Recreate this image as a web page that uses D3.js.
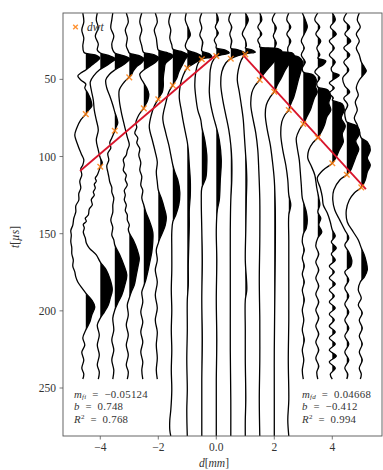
<!DOCTYPE html>
<html><head><meta charset="utf-8">
<script src="https://cdn.jsdelivr.net/npm/d3@7"></script>
<style>body{margin:0;background:#fff}svg{display:block}text{font-family:"Liberation Serif","DejaVu Serif",serif}</style>
</head><body><svg id="c" width="383" height="470"></svg>
<script>
// receiver positions d [mm]
const offsets = [-4.5,-4.0,-3.5,-3.0,-2.5,-2.0,-1.5,-1.0,-0.5,0.0,0.5,1.0,1.5,2.0,2.5,3.0,3.5,4.0,4.5,5.0];
// wiggle traces: [t (µs), amplitude (a.u.)]
const tr_m45 = [[7,-3],[12.8,-2],[18,-4],[23.2,-2],[28.4,-3],[32.3,-2],[33.2,0],[34.2,10],[36.2,14],[38.8,10],[41.3,5],[43.9,0],[45.9,-5],[47.8,-8],[50.4,-5],[53,0],[55.6,-1],[58.8,2],[63.4,5],[67.3,6],[70.5,2],[72.5,0],[76.3,-5],[81.5,-9],[86.1,-11],[92.5,-8],[96,-6],[99,-4],[102,-2],[105.5,-3],[108,-5],[112,-4],[116,-6],[120.4,-5],[124,-7],[128.2,-7],[132,-10],[135.9,-10],[140,-12],[144.4,-13],[148,-15],[150.9,-14.5],[155,-15],[159.3,-14],[163,-14],[167.1,-12.5],[171,-13],[174.8,-11],[178,-10],[181.3,-8],[185.9,-3],[188.5,0],[193,6],[197.5,9],[202.7,6],[207.3,4],[212.4,0],[217.6,-3],[222.2,-1],[226.7,-4],[231.9,-2],[237.1,-4],[241,-2],[244.2,-3]];
const tr_m40 = [[7,-3],[11.5,-4],[16.7,-2],[21.9,-5],[27.1,-2],[31,-3],[32.9,0],[34.9,10],[36.8,15],[39.4,10],[42,4],[43.9,-1],[47.2,-6],[51.7,-10],[56.9,-9],[63.4,-7],[69.9,-6],[76.3,-4],[82.8,-2],[89.3,-4],[95.8,-2],[101,0],[104.2,2],[106.8,0],[112,-3],[114,-5],[116,-4],[118,-6],[120.4,-5],[123,-7],[125,-6],[128,-9],[131.4,-8],[134,-11],[137.9,-12],[140,-15],[142,-14],[144,-17],[146.3,-16],[149,-17],[152.8,-15],[156,-14],[159.3,-11],[163.8,-4],[168.4,0],[173.5,6],[180,10],[186.5,12],[191.7,10],[196.2,8],[200.8,4],[204.7,0],[209.2,-3],[215.7,-1],[222.2,-3],[228.6,-1],[235.1,-3],[239.7,-1],[244.2,-2]];
const tr_m35 = [[7,-2],[11.5,-3],[16.7,-4],[21.9,-1],[27.1,-3],[31,-2],[32.9,0],[34.9,10],[36.8,15],[39.4,11],[42,5],[43.9,0],[46.5,-5],[50.4,-9],[55.6,-8],[60.8,-5],[66.6,-2],[71.2,0],[75,2],[78.3,3],[81.5,1],[83.5,0],[88,-3],[91,-5],[94.5,-4],[98,-7],[102.3,-6],[106,-8],[110,-7],[113,-6],[116.5,-5],[120,-3],[123,-3],[127,-1],[131.4,-2],[136,-2],[141.2,-4],[146,-2],[150.9,-3],[154,-1],[157.3,0],[163.8,5],[170.3,9],[176.8,12],[183.3,10],[189.8,7],[194.9,3],[199.5,0],[204.7,-2],[212.4,-1],[218.9,-3],[225.4,-1],[231.9,-3],[238.4,-1],[244.2,-2]];
const tr_m30 = [[7,-3],[12.8,-1],[18,-4],[23.2,-2],[28.4,-3],[31.6,-1],[32.9,0],[34.9,11],[36.8,15],[39.4,12],[42,7],[44.6,4],[47.2,2],[48.5,0],[51.7,-5],[56.9,-10],[63.4,-10],[71.2,-8],[79.6,-5],[87.4,-2],[92.5,0],[96,-2],[99,-3],[102,-6],[105.5,-5],[109,-6],[112,-3],[115,-4],[118.5,-2],[122,-5],[124.9,-4],[128,-5],[131.4,-3],[135,-4],[137.9,-2],[141,-2],[144.4,0],[147,-1],[149.6,0],[154.1,4],[160.6,8],[165.8,10],[170.3,9],[176.8,7],[183.3,5],[187.8,2],[191.7,0],[196.2,-2],[202.7,-1],[209.2,-3],[215.7,-1],[222.2,-3],[228.6,-1],[235.1,-3],[239.7,-1],[244.2,-2]];
const tr_m25 = [[7,-2],[12.8,-4],[18,-2],[23.2,-4],[28.4,-2],[31.6,-1],[32.6,0],[34.2,11],[36.2,15],[38.8,12],[41.3,6],[43.9,0],[46.5,-4],[49.1,-3],[52.4,0],[55.6,3],[59.5,5],[63.4,4],[67.3,1],[68.6,0],[73.1,-5],[78.3,-8],[81,-7],[84.8,-9],[88,-6],[91.2,-7],[95,-4],[99,-5],[104,-3],[108.7,-4],[113,-2],[118.5,-3],[122,-1],[126.9,-2],[131.4,0],[135.9,2],[142.4,6],[148.9,9],[155.4,9],[161.9,8],[168.4,6],[174.8,4],[180,2],[183.9,0],[187.8,-2],[194.3,-1],[200.8,-3],[207.3,-1],[213.7,-3],[220.2,-1],[226.7,-3],[233.2,-1],[238.4,-2],[244.2,-1]];
const tr_m20 = [[7,-3],[12.8,-1],[18,-4],[23.2,-2],[28.4,-1],[31,0],[32.9,10],[34.9,15],[37.5,11],[40,7],[43.9,6],[49.1,5],[54.3,5],[58.2,4],[61.4,1],[62.7,0],[67.3,-4],[73.1,-7],[80.9,-9],[89.3,-6],[97.1,-3],[103.6,-1],[110,-2],[116.5,-1],[121.7,0],[126.9,3],[133.4,6],[139.2,8],[144.4,7],[149.6,4],[154.1,1],[156.1,0],[160.6,-2],[167.1,-1],[173.5,-3],[181.3,-1],[189.8,-3],[198.2,-1],[206,-3],[213.7,-1],[222.2,-2],[230.6,-1],[238.4,-2],[244.2,-1]];
const tr_m15 = [[7,-2],[12.8,-4],[18,-2],[23.2,-3],[27.7,-1],[30.3,0],[32.3,10],[34.2,15],[37.5,12],[41.3,9],[45.2,6],[49.1,4],[52.4,1],[53.7,0],[58.2,-4],[65.3,-7],[75,-10],[84.8,-7],[92.5,-4],[99,-2],[105.5,0],[110,2],[115.2,5],[123,7],[131.4,6],[137.9,3],[142.4,0],[148.9,-1],[160.6,-1],[173.5,-1],[186.5,-1.5],[199.5,-1],[212.4,-1.5],[225.4,-1],[238.4,-1.5],[251.3,-1],[264.3,-2],[270.8,-3],[277.2,-3],[281.1,-2]];
const tr_m10 = [[7,-1],[11.5,-2],[16.7,1],[21.3,3],[24.5,0],[28.4,-2],[31,0],[32.9,8],[34.9,14],[37.5,12],[40,6],[42,1],[42.6,0],[47.2,-4],[53.7,-7],[62.1,-8],[69.9,-6],[77.6,-4],[84.1,-2],[90.6,0],[95.8,1],[105.5,2],[115.2,3],[124.9,3],[134.7,2],[144.4,2],[157.3,1.5],[170.3,1],[183.3,1],[193,0],[212.4,0],[231.9,-0.5],[251.3,0],[264.3,-0.5],[281.1,0]];
const tr_m05 = [[7,0],[11.5,-2],[16.7,0],[21.3,-2],[25.8,1],[29.7,0],[31.6,0],[33.6,8],[35.5,10],[36.8,0],[40,-4],[45.2,-6],[53.7,-7],[61.4,-6],[69.9,-4],[76.3,-1],[80.9,0],[89.3,3],[99,5],[105.5,5],[113.9,4],[120.4,0],[128.2,-0.5],[147.6,0],[167.1,0.5],[193,0],[218.9,0.5],[244.8,0],[264.3,0],[281.1,0]];
const tr_p00 = [[7,0],[11.5,2],[16.1,-1],[20,2],[24.5,-2],[27.7,0],[29.7,0],[31,9],[32.9,13],[34.2,5],[35.2,0],[38.8,-4],[43.9,-6],[50.4,-6.5],[58.2,-7],[64.7,-6],[71.2,-4],[76.3,-2],[80.9,0],[89.3,3],[102.3,5],[115.2,4],[128.2,3],[134.7,1],[147.6,0],[167.1,0.5],[193,0],[218.9,0.5],[244.8,0],[264.3,0],[281.1,0]];
const tr_p05 = [[7,0],[11.5,-2],[16.1,1],[20.6,-1],[25.1,1],[28.4,0],[29.7,0],[31,8],[32.9,14],[34.9,6],[36.5,0],[39.4,-5],[45.2,-9],[53.7,-10],[63.4,-8],[73.1,-5],[82.8,-2],[92.5,0],[102.3,1],[115.2,1],[128.2,0],[147.6,-0.5],[173.5,-0.5],[199.5,-0.5],[225.4,-0.5],[257.8,0],[281.1,0]];
const tr_p10 = [[7,0],[11.5,3],[16.1,0],[20.6,-3],[24.5,0],[28.4,1],[29.7,0],[31,7],[32.3,10],[33.8,0],[37.5,-4],[43.9,-7],[50.4,-8],[58.2,-6],[66.6,-4],[76.3,-2],[86.1,-1],[95.8,0],[105.5,1],[115.2,1.5],[128.2,1],[147.6,0.5],[167.1,0],[186.5,1.5],[193,0],[212.4,0],[231.9,0],[257.8,0.5],[270.8,0],[281.1,0]];
const tr_p15 = [[7,0],[11.5,2],[16.1,-2],[20.6,2],[24.5,-2],[27.7,0],[29,0],[30,18],[31.6,22],[34.9,19],[38.8,14],[42.6,9],[46.5,4],[50.4,0],[54.3,-5],[58.8,-8],[66.6,-9],[75,-7],[84.8,-4],[95.8,-2],[108.7,-1],[128.2,0],[154.1,0],[180,-0.5],[206,0],[231.9,0],[257.8,-0.5],[281.1,0]];
const tr_p20 = [[7,1],[11.5,-2],[16.7,2],[21.9,-1],[26.4,2],[30.3,0],[31.6,0],[32.9,18],[34.9,20],[38.8,16],[43.9,11],[49.1,7],[53.7,3],[58,0],[61.4,-4],[66.6,-8],[73.1,-9],[82.8,-7],[92.5,-4],[102.3,-2],[115.2,0],[134.7,1],[160.6,1],[193,0.5],[225.4,0],[257.8,0],[281.1,0]];
const tr_p25 = [[7,0],[11.5,-2],[16.1,2],[20.6,-2],[25.1,2],[29.7,-1],[33.6,0],[35.5,10],[38.8,14],[42.6,13],[47.2,11],[51.7,9],[56.9,7],[61.4,5],[66,2],[69.9,0],[73.1,-4],[77.6,-7],[86.1,-8],[95.8,-6],[105.5,-3],[115.2,-1],[124.9,0],[131.4,2],[137.9,0],[154.1,0],[180,0],[206,0],[231.9,-0.5],[257.8,0],[270.8,-1],[281.1,0]];
const tr_p30 = [[7,-1],[11.5,2],[16.1,4],[20.6,1],[25.1,-2],[29.7,1],[34.2,-2],[38.8,2],[42.6,-1],[45.2,0],[47.2,10],[50.4,13],[54.3,12],[58.2,14],[62.1,11],[66,9],[69.9,7],[73.7,4],[78.9,0],[82.8,-4],[88,-7],[94.5,-6],[102.3,-4],[110,-3],[118.5,-2],[126.9,-1],[131.4,1],[135.9,3],[141.2,4],[146.3,3],[150.2,0],[155.4,-1],[160.6,1],[165.8,-1],[171,1],[176.1,-1],[181.3,1],[186.5,-1],[193,1],[199.5,-1],[206,0.5],[212.4,-1],[218.9,1],[225.4,-1],[231.9,0.5],[238.4,-1],[244.2,0]];
const tr_p35 = [[7,0],[11.5,-3],[16.1,2],[20.6,-2],[25.1,3],[29.7,-1],[34.2,2],[36.2,0],[38.1,8],[40.7,5],[42.6,0],[45.2,-3],[49.1,2],[52.4,-1],[55,0],[56.9,10],[60.8,13],[65.3,11],[69.9,13],[74.4,9],[78.9,7],[83.5,4],[87.8,0],[91.2,-5],[95.8,-9],[101,-10],[105.5,-7],[112,-3],[120.4,-1],[126.9,1],[131.4,2],[135.9,0],[139.9,3],[144.4,1],[148.9,4],[152.8,0],[158,-2],[163.2,1],[168.4,-2],[173.5,1],[178.7,-2],[183.9,1],[189.1,-2],[194.3,1],[199.5,-2],[204.7,1],[209.9,-2],[215,1],[220.2,-2],[225.4,1],[230.6,-2],[235.8,1],[239.7,-1],[244.2,0]];
const tr_p40 = [[7,0],[11.5,3],[16.1,-2],[20.6,4],[25.1,-3],[29.7,2],[34.2,-3],[38.8,3],[42.6,-1],[45.2,0],[47.2,7],[49.8,2],[52.4,-3],[55.6,2],[58.8,-3],[62.1,1],[63.4,0],[66,10],[69.9,12],[75,9],[80.2,13],[85.4,10],[90.6,11],[95.8,7],[100.3,4],[104.4,0],[108.7,-9],[113.9,-15],[120.4,-12],[126.2,-10],[131.4,-9],[136.6,-5],[142.4,-2],[147.6,0],[151.5,3],[155.4,-1],[159.3,4],[163.2,-1],[167.1,3],[171,-3],[174.8,2],[178.7,-3],[182.6,3],[186.5,-3],[190.4,2],[194.3,-3],[198.2,3],[202.1,-3],[206,2],[209.9,-3],[213.7,3],[217.6,-3],[221.5,3],[225.4,-3],[229.3,4],[233.2,-3],[237.1,3],[241,-2],[244.2,0]];
const tr_p45 = [[7,0],[11.5,-3],[16.1,3],[20.6,-2],[25.1,4],[29.7,-3],[34.2,3],[38.8,-3],[43.9,2],[49.1,-4],[54.3,-2],[58.2,3],[62.1,-3],[66.6,1],[71.2,-2],[76.3,-1],[77.6,0],[80.2,10],[84.8,13],[90,9],[95.1,12],[100.3,9],[105.5,6],[108.7,4],[111.8,0],[115.2,-7],[121.7,-13],[128.2,-14],[134.7,-12],[141.2,-7],[147.6,-2],[152.8,2],[157.3,-2],[161.9,2],[167.1,5],[171,4],[174.8,-2],[180,2],[185.2,-2],[190.4,2],[195.6,-2],[200.8,2],[206,-2],[211.2,2],[216.3,-2],[221.5,2],[226.7,-2],[231.9,2],[237.1,-2],[241,1],[244.2,0]];
const tr_p50 = [[7,-2],[11.5,-4],[16.1,-1],[20.6,-5],[25.1,-2],[29.7,-5],[34.2,-2],[38.8,0],[42,3],[44.6,5],[47.2,2],[50.4,-2],[55.6,-5],[60.1,-3],[64.7,-6],[69.9,-4],[75,-7],[79.6,-4],[84.1,-2],[88,0],[90.6,6],[95.8,9],[101,6],[105.5,9],[110,6],[115.2,4],[120,0],[123.6,-7],[128.2,-12],[134.7,-15],[142.4,-14],[148.9,-8],[154.1,-3],[159.3,0],[163.8,3],[168.4,5],[173.5,6],[178.1,3],[181.3,-1],[186.5,-3],[191.7,0],[196.2,-3],[201.4,1],[206,-2],[211.2,1],[216.3,-2],[221.5,1],[226.7,-2],[231.9,1],[237.1,-2],[241,0],[244.2,-1]];
const traces = [tr_m45,tr_m40,tr_m35,tr_m30,tr_m25,tr_m20,tr_m15,tr_m10,tr_m05,tr_p00,tr_p05,tr_p10,tr_p15,tr_p20,tr_p25,tr_p30,tr_p35,tr_p40,tr_p45,tr_p50];
// dwt picks (t at each receiver)
const dwtT = [72.5,106.6,83.3,48.7,68.8,62.9,53.9,42.6,37.0,34.9,36.6,33.8,50.4,58.0,69.9,78.9,87.8,104.4,111.8,120.0];
// linear fits (end points)
const fitLeftD = [-4.70,-0.01], fitLeftT = [109.4,34.2];
const fitRightD = [0.92,5.16], fitRightT = [34.2,121.1];
const xTicks = [-4,-2,0,2,4], xTickLabels = ["\u22124","\u22122","0.0","2","4"];
const yTicks = [50,100,150,200,250];
const gain = 1/29; // mm per amplitude unit

const svg = d3.select("#c");
const L=63,R=382,T=13,B=436;
const x = d3.scaleLinear().domain([-5.286,5.714]).range([L,R]);
const y = d3.scaleLinear().domain([7,281.1]).range([T,B]);

const defs = svg.append("defs");
defs.append("clipPath").attr("id","plot").append("rect").attr("x",L).attr("y",T).attr("width",R-L).attr("height",B-T);
const plot = svg.append("g").attr("clip-path","url(#plot)");
const fillG = plot.append("g");
const lineG = plot.append("g");
const curve = d3.curveCatmullRom.alpha(0.5);

traces.forEach((pts,i)=>{
  const d0 = offsets[i], bx = x(d0);
  const line = d3.line().y(p=>y(p[0])).x(p=>x(d0+p[1]*gain)).curve(curve);
  const path = lineG.append("path").attr("d",line(pts)).attr("fill","none").attr("stroke","#000").attr("stroke-width",1.3);
  // positive (right-of-baseline) lobes filled black, following the drawn curve
  const node = path.node(), len = node.getTotalLength();
  const s = [];
  for(let l=0;l<=len;l+=0.4){const q=node.getPointAtLength(l); s.push([q.x,q.y]);}
  let run=null; const polys=[];
  for(let k=0;k<s.length;k++){
    const [sx,sy]=s[k];
    if(sx>bx){
      if(!run){
        let ey=sy;
        if(k>0){const [px,py]=s[k-1]; const f=(bx-px)/(sx-px); ey=py+f*(sy-py);}
        run=[[bx,ey]];
      }
      run.push([sx,sy]);
    } else if(run){
      const [px,py]=s[k-1]; const f=(bx-px)/(sx-px);
      run.push([bx,py+f*(sy-py)]); polys.push(run); run=null;
    }
  }
  if(run){run.push([bx,run[run.length-1][1]]); polys.push(run);}
  polys.forEach(r=>{ if(r.length>2) fillG.append("path").attr("d","M"+r.map(q=>q[0].toFixed(2)+","+q[1].toFixed(2)).join("L")+"Z").attr("fill","#000"); });
});

// fit lines
[[fitLeftD,fitLeftT],[fitRightD,fitRightT]].forEach(([dd,tt])=>{
  plot.append("line").attr("x1",x(dd[0])).attr("y1",y(tt[0])).attr("x2",x(dd[1])).attr("y2",y(tt[1]))
    .attr("stroke","#d8142b").attr("stroke-width",1.8);
});
// dwt markers
const mk = (g,cx,cy,s)=>g.append("path").attr("d",`M${cx-s},${cy-s}L${cx+s},${cy+s}M${cx-s},${cy+s}L${cx+s},${cy-s}`)
  .attr("stroke","#ff7f0e").attr("stroke-opacity",0.85).attr("stroke-width",1.4).attr("fill","none");
offsets.forEach((d0,i)=>mk(plot,x(d0),y(dwtT[i]),2.8));

// frame
svg.append("rect").attr("x",L).attr("y",T).attr("width",R-L).attr("height",B-T).attr("fill","none").attr("stroke","#555").attr("stroke-width",0.9);

// ticks
const ax = svg.append("g").attr("font-size",11.5).attr("fill","#333");
xTicks.forEach((v,i)=>{
  ax.append("line").attr("x1",x(v)).attr("x2",x(v)).attr("y1",B).attr("y2",B+3.5).attr("stroke","#555").attr("stroke-width",0.8);
  ax.append("text").attr("x",x(v)).attr("y",B+15).attr("text-anchor","middle").text(xTickLabels[i]);
});
yTicks.forEach(v=>{
  ax.append("line").attr("x1",L-3.5).attr("x2",L).attr("y1",y(v)).attr("y2",y(v)).attr("stroke","#555").attr("stroke-width",0.8);
  ax.append("text").attr("x",L-7).attr("y",y(v)+4).attr("text-anchor","end").text(v);
});

// axis labels
const xl = ax.append("text").attr("x",214).attr("y",467).attr("text-anchor","middle");
xl.append("tspan").attr("font-style","italic").text("d");
xl.append("tspan").text("[");
xl.append("tspan").attr("font-style","italic").text("mm");
xl.append("tspan").text("]");
const yl = ax.append("text").attr("transform","translate(19,237) rotate(-90)").attr("text-anchor","middle");
yl.append("tspan").attr("font-style","italic").text("t");
yl.append("tspan").text("[");
yl.append("tspan").attr("font-style","italic").text("\u00b5s");
yl.append("tspan").text("]");

// legend
mk(svg,75.5,27,2.3);
svg.append("text").attr("x",87).attr("y",31).attr("font-size",11.5).attr("font-style","italic").attr("fill","#333").text("dwt");

// annotations
const EQ = "\u2002=\u2002";
function mline(xp,yp,sym,sub,sup,rest){
  const t = svg.append("text").attr("x",xp).attr("y",yp).attr("font-size",10.8).attr("letter-spacing",0.3).attr("fill","#333");
  t.append("tspan").attr("font-style","italic").text(sym);
  if(sub){ t.append("tspan").attr("font-style","italic").attr("font-size",7).attr("dy",1.5).text(sub);
           t.append("tspan").attr("dy",-1.5).text(EQ+rest); }
  else if(sup){ t.append("tspan").attr("font-size",7).attr("dy",-4).text(sup);
           t.append("tspan").attr("dy",4).text(EQ+rest); }
  else t.append("tspan").text(EQ+rest);
}
mline(74,397.5,"m","fi",null,"\u22120.05124");
mline(74,410,"b",null,null,"0.748");
mline(74,422.5,"R",null,"2","0.768");
mline(302,397.5,"m","fd",null,"0.04668");
mline(302,410,"b",null,null,"\u22120.412");
mline(302,422.5,"R",null,"2","0.994");
</script></body></html>
